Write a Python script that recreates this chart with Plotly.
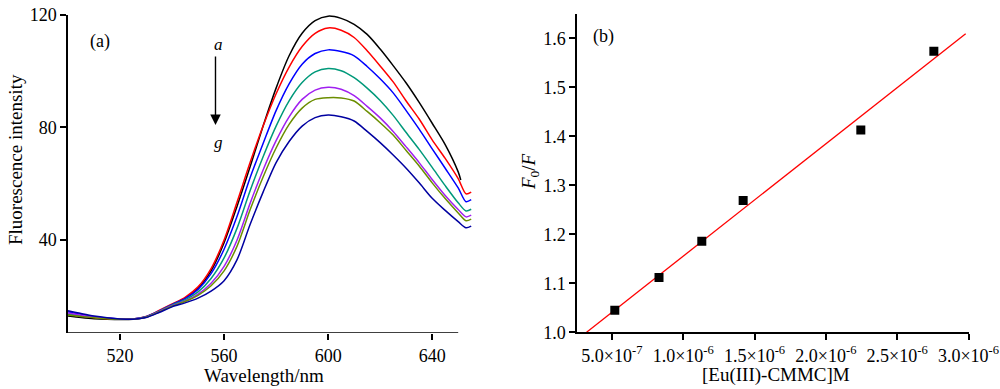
import numpy as np
import plotly.graph_objects as go

# ---------------- Panel (a) data ----------------
wavelength = [500, 505, 510, 515, 520, 525, 530, 535, 540, 545, 550, 555, 560, 565, 570,
              575, 580, 585, 590, 595, 600, 605, 610, 615, 620, 625, 630, 635, 640, 645,
              650, 653, 655]
wavelength_a = [500, 505, 510, 515, 520, 525, 530, 535, 540, 545, 550, 555, 560, 565, 570,
                575, 580, 585, 590, 595, 600, 605, 610, 615, 620, 625, 630, 635, 640, 645,
                650, 651]

curve_a = [12.9, 12.4, 12.0, 11.8, 11.7, 11.8, 12.6, 14.7, 17.0, 19.3, 22.8, 29.0, 39.0, 52.0,
           66.0, 80.5, 94.0, 105.5, 113.5, 118.0, 119.6, 118.8, 116.7, 113.1, 107.9, 102.0,
           95.8, 88.9, 81.5, 73.9, 64.2, 61.3]
curve_b = [13.5, 12.9, 12.4, 12.0, 11.8, 11.9, 12.8, 14.9, 17.2, 19.6, 23.3, 29.8, 40.0, 53.5,
           67.5, 80.5, 92.0, 101.5, 108.8, 113.5, 115.4, 114.6, 112.0, 107.3, 101.9, 96.2,
           89.4, 83.0, 75.6, 69.0, 61.8, 56.4, 57.0]
curve_c = [14.5, 13.5, 12.7, 12.2, 11.9, 11.9, 12.7, 14.7, 17.0, 19.1, 22.4, 28.0, 36.7, 48.4,
           62.1, 74.3, 86.0, 95.5, 102.5, 106.3, 107.6, 107.0, 105.5, 101.7, 97.3, 92.3,
           86.0, 79.4, 72.4, 65.5, 58.5, 53.6, 54.3]
curve_d = [13.6, 13.0, 12.5, 12.1, 11.8, 11.9, 12.6, 14.6, 16.8, 18.7, 21.5, 26.3, 33.6, 44.2,
           57.5, 69.6, 80.5, 89.5, 96.0, 99.8, 101.0, 100.2, 97.7, 94.0, 89.6, 84.3,
           78.2, 72.2, 65.8, 59.3, 53.2, 50.3, 50.9]
curve_e = [14.0, 13.3, 12.6, 12.2, 11.9, 11.9, 12.5, 14.5, 16.6, 18.3, 20.7, 24.6, 30.6, 40.0,
           53.0, 64.9, 75.3, 83.8, 90.0, 93.3, 94.3, 93.6, 91.3, 87.5, 83.4, 78.6,
           73.1, 67.5, 61.5, 55.8, 50.8, 48.2, 48.8]
curve_f = [13.3, 12.8, 12.3, 12.0, 11.8, 11.8, 12.5, 14.4, 16.4, 18.1, 20.3, 23.7, 29.0, 37.8,
           50.7, 62.4, 72.7, 81.1, 86.9, 90.0, 90.6, 90.5, 89.4, 85.7, 81.7, 77.3,
           71.8, 66.3, 60.3, 54.7, 49.6, 46.8, 47.4]
curve_g = [14.8, 13.8, 12.9, 12.3, 11.9, 11.8, 12.4, 14.2, 16.2, 17.6, 19.3, 21.8, 25.5, 33.0,
           45.5, 57.0, 67.5, 75.0, 80.5, 83.5, 84.4, 83.8, 82.3, 78.6, 74.6, 70.2,
           65.5, 60.3, 54.8, 50.5, 46.5, 44.3, 44.9]

curve_colors = ["#000000", "#FF0000", "#0000FF", "#00997A", "#A020F0", "#6B8E00", "#0000A0"]

x_ticks_a = [520, 560, 600, 640]
y_ticks_a = [40, 80, 120]

# ---------------- Panel (b) data ----------------
conc = [5.2e-7, 8.3e-7, 1.13e-6, 1.42e-6, 2.245e-6, 2.757e-6]
f0_f = [1.045, 1.112, 1.186, 1.269, 1.413, 1.574]
fit_x_end = 2.98e-6

x_ticks_b = [5.0e-7, 1.0e-6, 1.5e-6, 2.0e-6, 2.5e-6, 3.0e-6]
x_ticklabels_b = ["5.0×10<sup>-7</sup>", "1.0×10<sup>-6</sup>", "1.5×10<sup>-6</sup>",
                  "2.0×10<sup>-6</sup>", "2.5×10<sup>-6</sup>", "3.0×10<sup>-6</sup>"]
y_ticks_b = [1.0, 1.1, 1.2, 1.3, 1.4, 1.5, 1.6]

FONT = "Liberation Serif, Times New Roman, serif"

fig = go.Figure()

series = [(wavelength_a, curve_a), (wavelength, curve_b), (wavelength, curve_c),
          (wavelength, curve_d), (wavelength, curve_e), (wavelength, curve_f),
          (wavelength, curve_g)]
for (xs, ys), col in zip(series, curve_colors):
    fig.add_trace(go.Scatter(x=xs, y=ys, mode="lines", xaxis="x", yaxis="y",
                             line=dict(color=col, width=1.5, shape="spline", smoothing=0.8),
                             showlegend=False, hoverinfo="skip"))

# linear fit for panel (b)
slope, intercept = np.polyfit(conc, f0_f, 1)
fit_x = [(1.0 - intercept) / slope, fit_x_end]
fit_y = [slope * v + intercept for v in fit_x]
fig.add_trace(go.Scatter(x=fit_x, y=fit_y, mode="lines", xaxis="x2", yaxis="y2",
                         line=dict(color="#FF0000", width=1.3), showlegend=False))
fig.add_trace(go.Scatter(x=conc, y=f0_f, mode="markers", xaxis="x2", yaxis="y2",
                         marker=dict(symbol="square", size=9, color="#000000"),
                         showlegend=False))

axis_common = dict(showgrid=False, zeroline=False, ticks="outside", ticklen=6,
                   tickwidth=1.5, tickcolor="#000000", linecolor="#000000", linewidth=1.5,
                   tickfont=dict(family=FONT, size=18, color="#000000"), automargin=False)

xa_min, xa_max = 500, 655.5
ya_min, ya_max = 6.9, 120

fig.update_layout(
    width=1000, height=389,
    margin=dict(l=0, r=0, t=0, b=0),
    paper_bgcolor="white", plot_bgcolor="rgba(0,0,0,0)",
    xaxis=dict(domain=[0.068, 0.4725], range=[xa_min, xa_max], tickvals=x_ticks_a,
               showline=False, anchor="y", **axis_common),
    yaxis=dict(domain=[0.1440, 0.9614], range=[ya_min, ya_max], tickvals=y_ticks_a,
               showline=True, anchor="x", **axis_common),
    xaxis2=dict(domain=[0.577, 0.9685], range=[2.55e-7, 3.0e-6], tickvals=x_ticks_b,
                ticktext=x_ticklabels_b, showline=True, anchor="y2", **axis_common),
    yaxis2=dict(domain=[0.1458, 0.964], range=[1.0, 1.65], tickvals=y_ticks_b,
                tickformat=".1f", showline=True, anchor="x2", **axis_common),
    shapes=[dict(type="line", xref="x", yref="y", x0=500, x1=650, y0=ya_min, y1=ya_min,
                 line=dict(color="#000000", width=1.5))],
)

title_font = dict(family=FONT, size=19, color="#000000")
ann = [
    dict(text="Wavelength/nm", x=0.264, y=1 - 375 / 389, xref="paper", yref="paper",
         showarrow=False, font=title_font, xanchor="center", yanchor="middle"),
    dict(text="Fluorescence intensity", x=0.015, y=1 - 160 / 389, xref="paper", yref="paper",
         showarrow=False, font=title_font, textangle=-90, xanchor="center", yanchor="middle"),
    dict(text="[Eu(III)-CMMC]M", x=0.7755, y=1 - 375 / 389, xref="paper", yref="paper",
         showarrow=False, font=title_font, xanchor="center", yanchor="middle"),
    dict(text="<i>F</i><sub>0</sub>/<i>F</i>", x=0.530, y=1 - 172 / 389, xref="paper",
         yref="paper", showarrow=False, font=title_font, textangle=-90,
         xanchor="center", yanchor="middle"),
    dict(text="(a)", x=0.100, y=1 - 42 / 389, xref="paper", yref="paper", showarrow=False,
         font=dict(family=FONT, size=18, color="#000000"), xanchor="center", yanchor="middle"),
    dict(text="(b)", x=0.603, y=1 - 36 / 389, xref="paper", yref="paper", showarrow=False,
         font=dict(family=FONT, size=18, color="#000000"), xanchor="center", yanchor="middle"),
    dict(text="<i>a</i>", x=557.8, y=109.5, xref="x", yref="y", showarrow=False,
         font=dict(family=FONT, size=17, color="#000000"), xanchor="center", yanchor="middle"),
    dict(text="<i>g</i>", x=557.8, y=74.5, xref="x", yref="y", showarrow=False,
         font=dict(family=FONT, size=17, color="#000000"), xanchor="center", yanchor="middle"),
    dict(text="", x=556.7, y=80.9, ax=556.7, ay=105.8, xref="x", yref="y", axref="x",
         ayref="y", showarrow=True, arrowhead=2, arrowsize=1.5, arrowwidth=1.4,
         arrowcolor="#000000"),
]
fig.update_layout(annotations=ann)

fig.write_html("out.html", config={"displayModeBar": False},
               post_script="document.body.style.margin='0';document.body.style.padding='0';")
